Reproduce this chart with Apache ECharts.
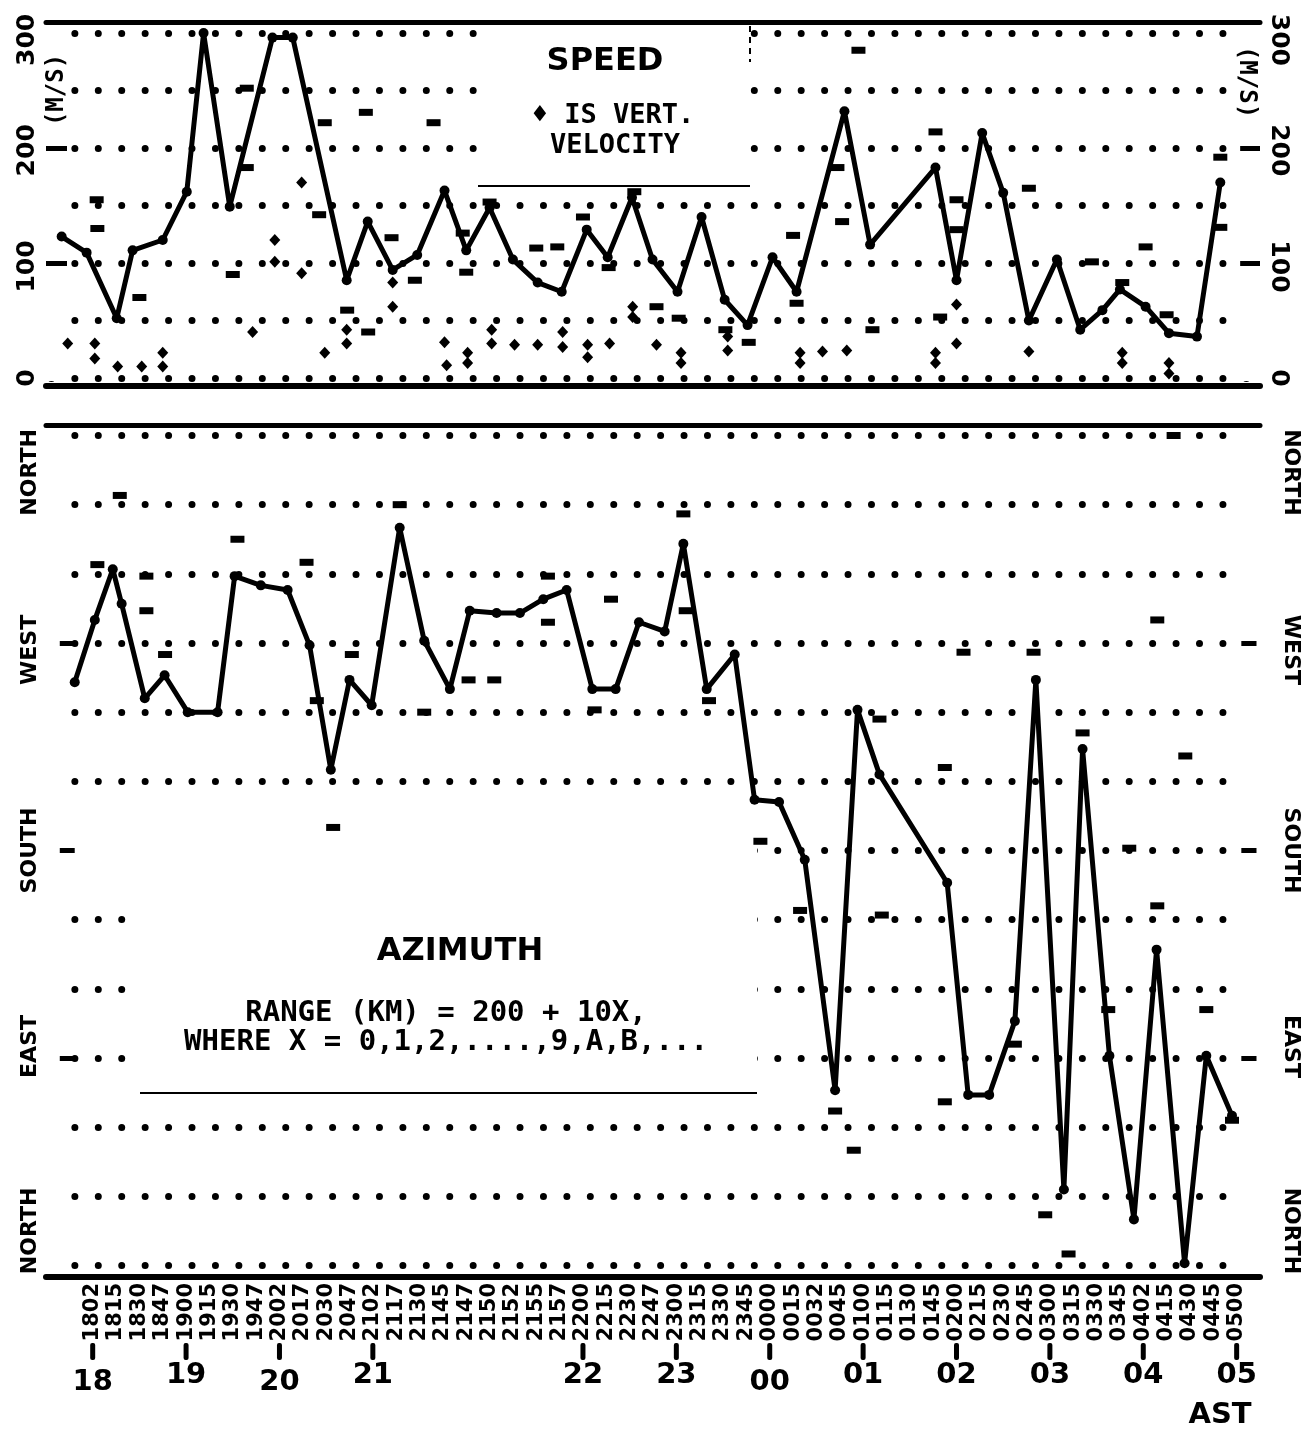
<!DOCTYPE html>
<html>
<head>
<meta charset="utf-8">
<title>Speed / Azimuth</title>
<script src="https://cdn.jsdelivr.net/npm/echarts@6/dist/echarts.min.js"></script>
<style>
html, body { margin: 0; padding: 0; background: #fff; }
#chart { width: 1311px; height: 1431px; }
</style>
</head>
<body>
<div id="chart"></div>
<script>
// observation times (one slot per label, read bottom to top under the chart)
var timeLabels = ['1802','1815','1830','1847','1900','1915','1930','1947','2002','2017','2030','2047',
  '2102','2117','2130','2145','2147','2150','2152','2155','2157','2200','2215','2230','2247',
  '2300','2315','2330','2345','0000','0015','0032','0045','0100','0115','0130','0145',
  '0200','0215','0230','0245','0300','0315','0330','0345','0402','0415','0430','0445','0500'];
var hourIdx = [0, 4, 8, 12, 21, 25, 29, 33, 37, 41, 45, 49];
var hourText = ['18','19','20','21','22','23','00','01','02','03','04','05'];
var hourLow = ['18','20','00'];
var slotIdx = timeLabels.map(function (t, i) { return i; });

// speed (m/s), x = slot index
var speedX = [-1.33,-0.26,1.03,1.71,3.0,4.03,4.75,5.87,7.7,8.57,10.88,11.78,12.85,13.9,15.07,
  16.0,17.0,18.0,19.06,20.09,21.16,22.06,23.1,23.98,25.05,26.08,27.07,28.05,29.12,30.15,
  32.2,33.3,36.1,37.0,38.1,39.0,40.1,41.3,42.3,43.25,44.0,45.1,46.1,47.3,48.3];
var speedV = [123,109,52,111,120,162,300,149,296,296,85,136,94,107,163,111,148,103,83,75,
  129,105,157,103,75,140,68,46,105,75,232,116,183,85,213,161,50,103,42,59,77,62,39,36,170];

// vertical velocity marks
var vvX = [-1.07,0.09,0.09,1.07,2.1,3.0,3.0,6.85,7.8,7.8,8.95,8.95,9.94,10.88,10.88,12.85,12.85,
  15.07,15.16,16.06,16.06,17.09,17.09,18.07,19.06,20.13,20.13,21.2,21.2,22.14,23.13,23.13,24.15,
  25.2,25.2,27.2,27.2,30.3,30.3,31.26,32.3,36.1,36.1,37.0,37.0,40.1,44.1,44.1,46.1,46.1];
var vvV = [30,30,17,10,10,22,10,40,120,101,170,91,22,42,30,83,62,31,11,22,13,42,30,29,29,40,27,
  29,18,30,62,53,29,22,13,36,24,22,13,23,24,22,13,64,30,23,22,13,13,4];

// range-code marks in the speed panel
var rsX = [0.17,0.2,2.0,6.0,6.6,6.6,9.94,9.7,11.7,10.9,11.8,12.8,13.8,14.6,17.0,15.85,16.0,19.0,
  19.9,21.0,22.1,23.2,24.15,25.1,27.1,28.1,30.0,30.15,31.9,32.1,32.8,36.1,37.0,37.0,40.1,42.8,
  44.1,45.1,46.0,48.3,48.3,36.3,33.4];
var rsV = [155,130,70,90,183,252,222,142,231,59,40,122,85,222,153,126,92,113,114,140,96,162,62,
  52,42,31,124,65,183,136,285,214,155,129,165,101,83,114,55,131,192,53,42];

// azimuth (degrees, 0 = north at bottom)
var azX = [-0.77,0.09,0.86,1.24,2.23,3.08,4.07,5.35,6.08,7.2,8.35,9.29,10.2,11.0,11.95,13.15,
  14.2,15.3,16.15,17.3,18.3,19.3,20.3,21.4,22.4,23.4,24.5,25.3,26.3,27.5,28.35,29.4,30.5,31.8,
  32.76,33.7,36.6,37.5,38.4,39.5,40.4,41.6,42.4,43.55,44.6,45.57,46.77,47.7,48.8];
var azV = [253,280,302,287,246,256,240,240,299,295,293,269,215,254,243,320,271,250,284,283,
  283,289,293,250,250,279,275,313,250,265,202,201,176,76,241,213,166,74,74,106,254,33,224,91,
  20,137,1,91,65];

// range-code marks in the azimuth panel
var raX = [1.16,0.2,2.3,2.3,3.1,6.2,9.16,9.6,10.3,11.1,13.15,14.2,16.1,17.2,19.5,19.5,22.2,21.5,
  25.3,25.4,26.4,28.6,30.3,32.6,33.7,33.8,36.5,37.3,36.5,40.3,40.8,41.8,42.4,39.5,43.5,45.6,
  44.4,45.6,46.8,47.7,48.8,46.3,31.8];
var raV = [334,304,299,284,265,315,305,245,190,265,330,240,254,254,299,279,289,241,326,284,245,
  184,154,50,237,152,216,266,71,266,22,5,231,96,111,156,181,280,221,111,63,360,67];

// short "I" marks at the edges
var speedTicks = [100, 200];
var azTicks = [90, 180, 270];

var azNames = {15: 'NORTH', 95: 'EAST', 180: 'SOUTH', 267: 'WEST', 344: 'NORTH'};

function pairs(xs, ys) {
  return xs.map(function (x, i) { return [x, ys[i]]; });
}

// edge marks: [x0, x1] spans in slot units, one segment per value
function edgeMarks(vals, spans) {
  var out = [];
  vals.forEach(function (v) {
    spans.forEach(function (s) {
      out.push([{ coord: [s[0], v] }, { coord: [s[1], v] }]);
    });
  });
  return out;
}

var chart = echarts.init(document.getElementById('chart'));
var bold = { fontFamily: 'DejaVu Sans', fontWeight: 'bold', color: '#000' };
var dots = { color: '#000', width: 7, type: [0, 23.43], cap: 'round', dashOffset: 18 };
function thick(w) { return { show: true, onZero: false, lineStyle: { color: '#000', width: w } }; }
function off() { return { show: false }; }

function frameX(grid, pos, offset, w) {
  return {
    type: 'value', gridIndex: grid, position: pos, offset: offset, min: -2, max: 50, interval: 1,
    axisLine: thick(w), axisTick: off(), axisLabel: off(), splitLine: off()
  };
}

// axis that only carries the dotted grid rows
function dotAxis(grid, max, step) {
  return {
    type: 'value', gridIndex: grid, min: 0, max: max, interval: step,
    axisLine: off(), axisTick: off(), axisLabel: off(),
    splitLine: { show: true, lineStyle: dots }
  };
}

function labelAxis(grid, pos, max, rot, size, margin, vals, fmt) {
  return {
    type: 'value', gridIndex: grid, position: pos, min: 0, max: max, z: 3,
    axisLine: off(), splitLine: off(), axisTick: off(),
    axisLabel: Object.assign({ rotate: rot, fontSize: size, margin: margin, customValues: vals, formatter: fmt }, bold)
  };
}

var speedFmt = function (v) { return String(Math.round(v / 100) * 100); };
var azFmt = function (v) { return azNames[Math.round(v)] || ''; };
var markStyle = {
  silent: true, symbol: ['none', 'none'], label: { show: false },
  lineStyle: { color: '#000', width: 5, type: 'solid' }
};
var white = { fill: '#fff' };

var option = {
  backgroundColor: '#fff',
  animation: false,
  grid: [
    { left: 46, width: 1214, top: 33, height: 345 },
    { left: 46, width: 1214, top: 435.5, height: 830 },
    // strip that holds the hour row
    { left: 46, width: 1214, top: 1330, height: 13 },
    // strip whose bottom edge sits just under the azimuth frame, for the time labels
    { left: 46, width: 1214, top: 1273, height: 10 }
  ],
  xAxis: [
    frameX(0, 'bottom', 8, 6),
    frameX(0, 'top', 11, 5),
    frameX(1, 'bottom', 11, 6),
    frameX(1, 'top', 10, 5),
    {
      // hour marks: a short bar then the hour, staggered rows
      type: 'value', gridIndex: 2, position: 'bottom', min: -2, max: 50,
      axisLine: { show: false, onZero: false }, splitLine: off(), axisTick: off(),
      axisLabel: {
        customValues: hourIdx, margin: 0,
        formatter: function (v) {
          var t = hourText[hourIdx.indexOf(Math.round(v))];
          return '{bar|}\n' + (hourLow.indexOf(t) >= 0 ? '{lo|' : '{hi|') + t + '}';
        },
        rich: {
          bar: { width: 5, height: 17, backgroundColor: '#000', borderRadius: 2 },
          hi: Object.assign({ fontSize: 29, lineHeight: 30 }, bold),
          lo: Object.assign({ fontSize: 29, lineHeight: 30, padding: [14, 0, 0, 0] }, bold)
        }
      }
    },
    {
      // observation time labels, one per slot
      type: 'value', gridIndex: 3, position: 'bottom', min: -2, max: 50,
      axisLine: { show: false, onZero: false }, splitLine: off(), axisTick: off(),
      axisLabel: Object.assign({
        customValues: slotIdx, rotate: 90, fontSize: 21, margin: 0,
        formatter: function (v) { return timeLabels[Math.round(v)] || ''; }
      }, bold)
    }
  ],
  yAxis: [
    labelAxis(0, 'left', 300, 90, 25, 6, [0, 97, 198, 294], speedFmt),
    labelAxis(0, 'right', 300, -90, 25, 6, [0, 97, 198, 294], speedFmt),
    labelAxis(1, 'left', 360, 90, 22, 5, [15, 95, 180, 267, 344], azFmt),
    labelAxis(1, 'right', 360, -90, 22, 20, [15, 95, 180, 267, 344], azFmt),
    dotAxis(0, 300, 50),
    dotAxis(1, 360, 30),
    { type: 'value', gridIndex: 2, show: false },
    { type: 'value', gridIndex: 3, show: false }
  ],
  graphic: [
    // white strips: no grid dots right against the side axes
    { type: 'rect', z: 1, shape: { x: 44, y: 26, width: 19, height: 355 }, style: white },
    { type: 'rect', z: 1, shape: { x: 1238, y: 26, width: 24, height: 355 }, style: white },
    { type: 'rect', z: 1, shape: { x: 44, y: 430, width: 19, height: 842 }, style: white },
    { type: 'rect', z: 1, shape: { x: 1238, y: 430, width: 24, height: 842 }, style: white },
    // title boxes (blank out the dotted grid behind them)
    { type: 'rect', z: 1, shape: { x: 478, y: 25, width: 272, height: 161 }, style: white },
    { type: 'line', z: 1, shape: { x1: 478, y1: 186, x2: 750, y2: 186 }, style: { stroke: '#000', lineWidth: 2 } },
    { type: 'line', z: 1, shape: { x1: 750, y1: 26, x2: 750, y2: 62 }, style: { stroke: '#000', lineWidth: 2, lineDash: [6, 5] } },
    { type: 'rect', z: 1, shape: { x: 140, y: 830, width: 617, height: 263 }, style: white },
    { type: 'rect', z: 1, shape: { x: 72, y: 835, width: 70, height: 35 }, style: white },
    { type: 'line', z: 1, shape: { x1: 140, y1: 1093, x2: 757, y2: 1093 }, style: { stroke: '#000', lineWidth: 2 } },
    { type: 'text', z: 2, x: 605, y: 62, style: { text: 'SPEED', font: 'bold 32px "DejaVu Sans"', fill: '#000', align: 'center', verticalAlign: 'middle' } },
    { type: 'text', z: 2, x: 613, y: 116, style: { text: '\u2666 IS VERT.', font: 'bold 27px "DejaVu Sans Mono"', fill: '#000', align: 'center', verticalAlign: 'middle' } },
    { type: 'text', z: 2, x: 615, y: 146, style: { text: 'VELOCITY', font: 'bold 27px "DejaVu Sans Mono"', fill: '#000', align: 'center', verticalAlign: 'middle' } },
    { type: 'text', z: 2, x: 460, y: 952, style: { text: 'AZIMUTH', font: 'bold 32px "DejaVu Sans"', fill: '#000', align: 'center', verticalAlign: 'middle' } },
    { type: 'text', z: 2, x: 446, y: 1013, style: { text: 'RANGE (KM) = 200 + 10X,', font: 'bold 29px "DejaVu Sans Mono"', fill: '#000', align: 'center', verticalAlign: 'middle' } },
    { type: 'text', z: 2, x: 446, y: 1042, style: { text: 'WHERE X = 0,1,2,....,9,A,B,...', font: 'bold 29px "DejaVu Sans Mono"', fill: '#000', align: 'center', verticalAlign: 'middle' } },
    { type: 'text', z: 2, x: 57, y: 90, rotation: Math.PI / 2, style: { text: '(M/S)', font: 'bold 24px "DejaVu Sans Mono"', fill: '#000', align: 'center', verticalAlign: 'middle' } },
    { type: 'text', z: 2, x: 1246, y: 82, rotation: -Math.PI / 2, style: { text: '(M/S)', font: 'bold 24px "DejaVu Sans Mono"', fill: '#000', align: 'center', verticalAlign: 'middle' } },
    { type: 'text', z: 2, x: 1220, y: 1415, style: { text: 'AST', font: 'bold 29px "DejaVu Sans"', fill: '#000', align: 'center', verticalAlign: 'middle' } }
  ],
  series: [
    {
      name: 'speed', type: 'line', xAxisIndex: 0, yAxisIndex: 0, z: 5,
      data: pairs(speedX, speedV), symbol: 'circle', symbolSize: 10,
      lineStyle: { color: '#000', width: 5 }, itemStyle: { color: '#000' },
      markLine: Object.assign({ data: edgeMarks(speedTicks, [[-2, -1.1], [49.15, 50]]) }, markStyle)
    },
    {
      name: 'vertical velocity', type: 'scatter', xAxisIndex: 0, yAxisIndex: 0, z: 4,
      data: pairs(vvX, vvV), symbol: 'diamond', symbolSize: [11, 12], itemStyle: { color: '#000', opacity: 1 }
    },
    {
      name: 'range speed', type: 'scatter', xAxisIndex: 0, yAxisIndex: 0, z: 4,
      data: pairs(rsX, rsV), symbol: 'rect', symbolSize: [14, 7], itemStyle: { color: '#000', opacity: 1 }
    },
    {
      name: 'azimuth', type: 'line', xAxisIndex: 2, yAxisIndex: 2, z: 5,
      data: pairs(azX, azV), symbol: 'circle', symbolSize: 10,
      lineStyle: { color: '#000', width: 5 }, itemStyle: { color: '#000' },
      markLine: Object.assign({ data: edgeMarks(azTicks, [[-1.41, -0.77], [49.2, 49.85]]) }, markStyle)
    },
    {
      name: 'range azimuth', type: 'scatter', xAxisIndex: 2, yAxisIndex: 2, z: 4,
      data: pairs(raX, raV), symbol: 'rect', symbolSize: [14, 7], itemStyle: { color: '#000', opacity: 1 }
    }
  ]
};

chart.setOption(option);
</script>
</body>
</html>
